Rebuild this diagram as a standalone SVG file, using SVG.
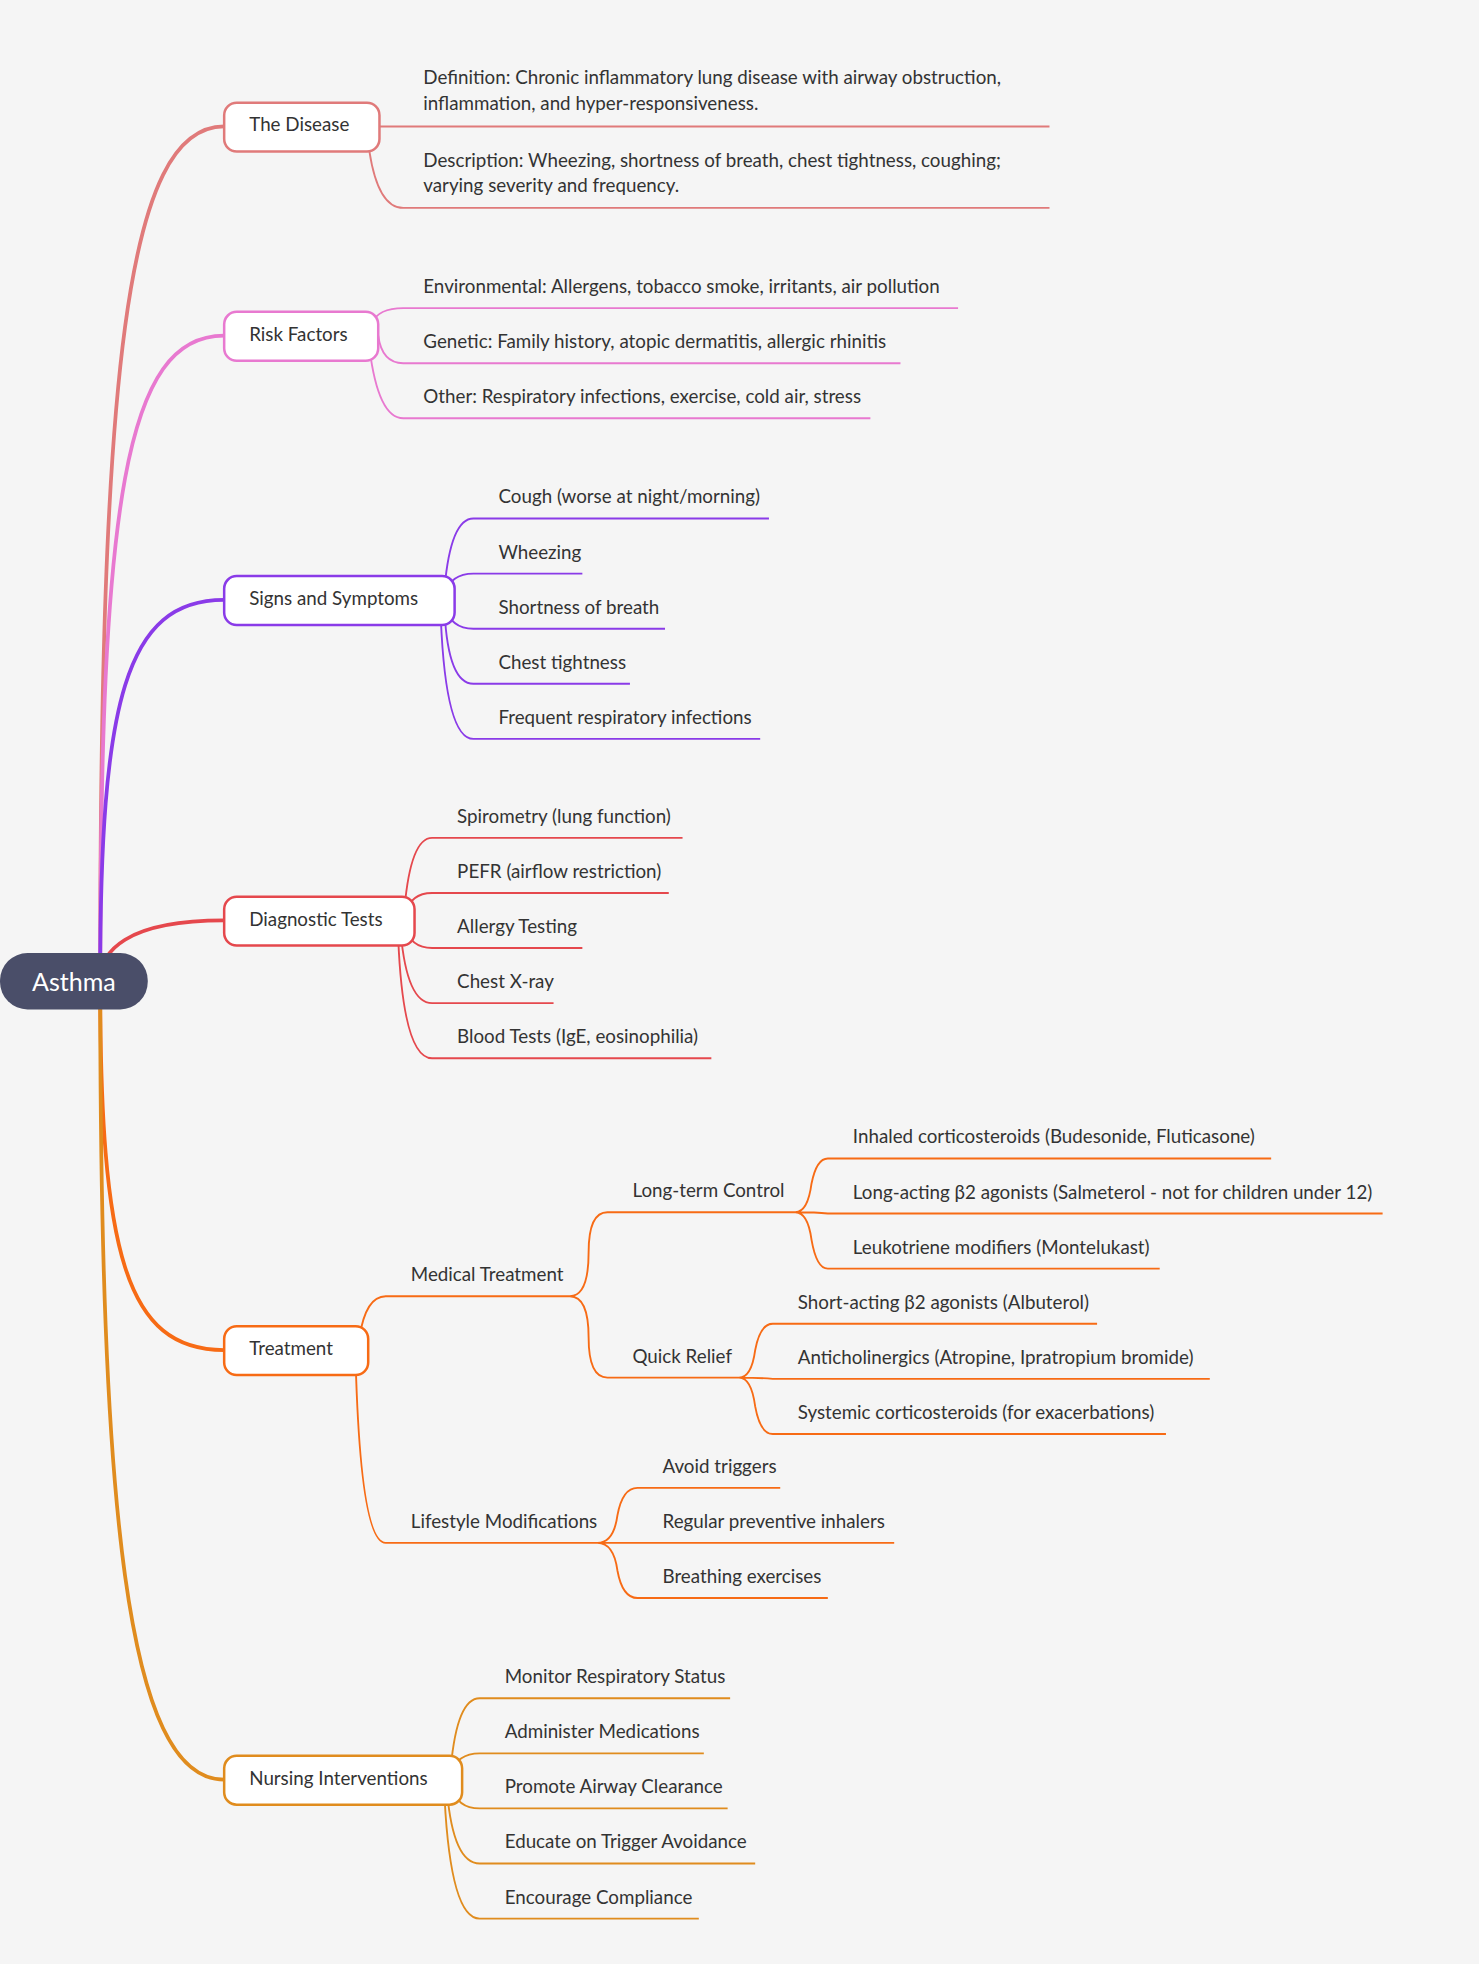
<svg xmlns="http://www.w3.org/2000/svg" width="1479" height="1964" viewBox="0 0 1479 1964">
<style>
text{font-family:"Source Sans Pro","Lato","Liberation Sans",sans-serif;font-size:15px;fill:#333}
.l{fill:none;stroke-width:1.5}
.m{fill:none;stroke-width:3}
.n{fill:#fff;stroke-width:2}
.c1{stroke:#e07a7a}.c2{stroke:#e879d0}.c3{stroke:#8a3be8}.c4{stroke:#e5484d}.c5{stroke:#f76b15}.c6{stroke:#e08c1e}
</style>
<rect width="1479" height="1964" fill="#f5f5f5"/>
<g transform="scale(1.25237)">
<g id="connectors">
<path class="m c1" d="M80 783 C80 300 100 101 179 101"/>
<path class="m c2" d="M80 783 C80 400 100 268 179 268"/>
<path class="m c3" d="M80 783 C80 560 100 479 179 479"/>
<path class="m c4" d="M80 783 C80 760 100 735 179 735"/>
<path class="m c5" d="M80 783 C80 1000 100 1078 179 1078"/>
<path class="m c6" d="M80 783 C80 1200 100 1421 179 1421"/>
<path class="l c1" d="M303 101 H838 M295 121 Q302 166 322 166 H838"/>
<path class="l c2" d="M297 258 Q302 246 322 246 H765 M302 268 Q305 290 322 290 H719 M295 278 Q302 334 322 334 H695"/>
<path class="l c3" d="M355 469 Q360 414 378 414 H614 M355 474 Q360 458 378 458 H465 M355 484 Q360 502 378 502 H531 M355 489 Q358 546 378 546 H503 M352 494 Q356 590 378 590 H607"/>
<path class="l c4" d="M323 725 Q328 669 345 669 H545 M323 730 Q328 713 345 713 H534 M323 740 Q328 757 345 757 H465 M320 745 Q325 801 345 801 H442 M318 750 Q322 845 345 845 H568"/>
<path class="l c5" d="M287 1068 Q292 1035 308 1035 H455 M284 1088 Q288 1232 308 1232 H477 M455 1035 Q470 1035 470 1000 Q470 968 485 968 H635 M455 1035 Q470 1035 470 1068 Q470 1100 485 1100 H590 M635 968 Q645 968 648 945 Q652 925 661 925 H1015 M635 968 Q652 968 661 969 H1104 M635 968 Q645 968 648 990 Q652 1013 661 1013 H926 M590 1100 Q600 1100 603 1078 Q607 1057 617 1057 H876 M590 1100 Q607 1100 617 1101 H966 M590 1100 Q600 1100 603 1123 Q607 1145 617 1145 H931 M477 1232 Q490 1232 493 1210 Q497 1188 509 1188 H623 M477 1232 Q495 1232 509 1232 H714 M477 1232 Q490 1232 493 1254 Q497 1276 509 1276 H661"/>
<path class="l c6" d="M360 1411 Q365 1356 383 1356 H583 M360 1416 Q365 1400 383 1400 H562 M360 1426 Q365 1444 383 1444 H581 M357 1431 Q362 1488 383 1488 H603 M355 1436 Q360 1532 383 1532 H558"/>
</g>
<g id="root"><rect x="0" y="761" width="118" height="45" rx="22" fill="#4a4e69"/><text x="59" y="791" text-anchor="middle" style="font-size:20px;fill:#fff">Asthma</text></g>
<g id="n1"><rect class="n c1" x="179" y="82" width="124" height="39" rx="10"/><text x="199" y="105">The Disease</text></g>
<g id="n2"><rect class="n c2" x="179" y="249" width="123" height="39" rx="10"/><text x="199" y="272">Risk Factors</text></g>
<g id="n3"><rect class="n c3" x="179" y="460" width="184" height="39" rx="10"/><text x="199" y="483">Signs and Symptoms</text></g>
<g id="n4"><rect class="n c4" x="179" y="716" width="152" height="39" rx="10"/><text x="199" y="739">Diagnostic Tests</text></g>
<g id="n5"><rect class="n c5" x="179" y="1059" width="115" height="39" rx="10"/><text x="199" y="1082">Treatment</text></g>
<g id="n6"><rect class="n c6" x="179" y="1402" width="190" height="39" rx="10"/><text x="199" y="1425">Nursing Interventions</text></g>
<g id="leaves">
<text x="338" y="67">Definition: Chronic inflammatory lung disease with airway obstruction,</text>
<text x="338" y="88">inflammation, and hyper-responsiveness.</text>
<text x="338" y="133">Description: Wheezing, shortness of breath, chest tightness, coughing;</text>
<text x="338" y="153">varying severity and frequency.</text>
<text x="338" y="234">Environmental: Allergens, tobacco smoke, irritants, air pollution</text>
<text x="338" y="278">Genetic: Family history, atopic dermatitis, allergic rhinitis</text>
<text x="338" y="322">Other: Respiratory infections, exercise, cold air, stress</text>
<text x="398" y="402">Cough (worse at night/morning)</text>
<text x="398" y="446">Wheezing</text>
<text x="398" y="490">Shortness of breath</text>
<text x="398" y="534">Chest tightness</text>
<text x="398" y="578">Frequent respiratory infections</text>
<text x="365" y="657">Spirometry (lung function)</text>
<text x="365" y="701">PEFR (airflow restriction)</text>
<text x="365" y="745">Allergy Testing</text>
<text x="365" y="789">Chest X-ray</text>
<text x="365" y="833">Blood Tests (IgE, eosinophilia)</text>
<text x="328" y="1023">Medical Treatment</text>
<text x="328" y="1220">Lifestyle Modifications</text>
<text x="505" y="956">Long-term Control</text>
<text x="505" y="1088">Quick Relief</text>
<text x="681" y="913">Inhaled corticosteroids (Budesonide, Fluticasone)</text>
<text x="681" y="957">Long-acting β2 agonists (Salmeterol - not for children under 12)</text>
<text x="681" y="1001">Leukotriene modifiers (Montelukast)</text>
<text x="637" y="1045">Short-acting β2 agonists (Albuterol)</text>
<text x="637" y="1089">Anticholinergics (Atropine, Ipratropium bromide)</text>
<text x="637" y="1133">Systemic corticosteroids (for exacerbations)</text>
<text x="529" y="1176">Avoid triggers</text>
<text x="529" y="1220">Regular preventive inhalers</text>
<text x="529" y="1264">Breathing exercises</text>
<text x="403" y="1344">Monitor Respiratory Status</text>
<text x="403" y="1388">Administer Medications</text>
<text x="403" y="1432">Promote Airway Clearance</text>
<text x="403" y="1476">Educate on Trigger Avoidance</text>
<text x="403" y="1520">Encourage Compliance</text>
</g>
</g>
</svg>
